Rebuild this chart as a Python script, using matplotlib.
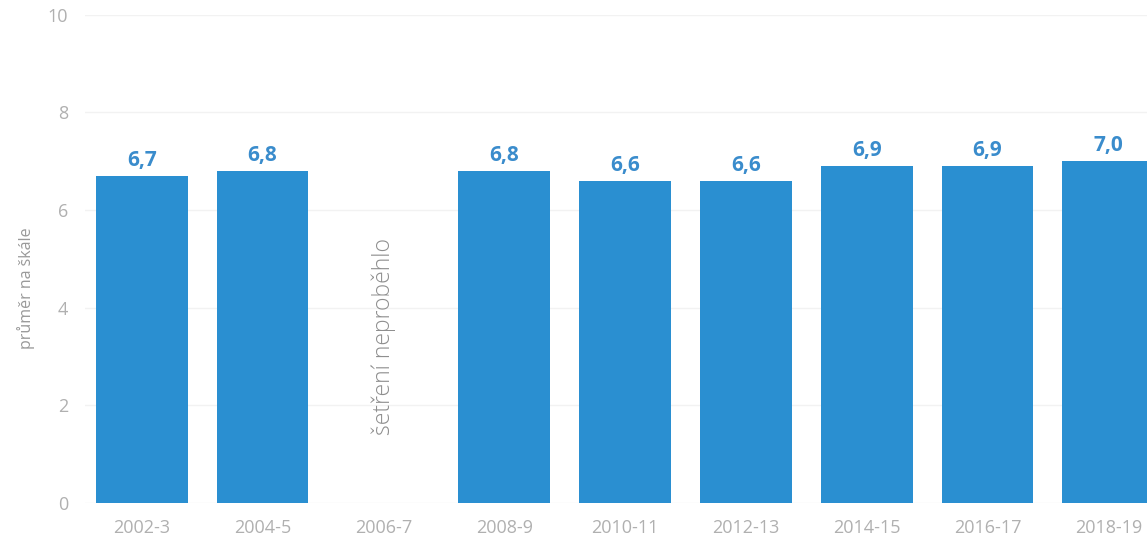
import matplotlib.pyplot as plt

periods = ['2002-3', '2004-5', '2006-7', '2008-9', '2010-11', '2012-13', '2014-15', '2016-17', '2018-19']
values = [6.7, 6.8, None, 6.8, 6.6, 6.6, 6.9, 6.9, 7.0]
missing_note = 'šetření neproběhlo'
y_ticks = [0, 2, 4, 6, 8, 10]

bar_color = '#2a8fd1'
label_color = '#3a8ccc'
gray = '#b0b0b0'

plt.rcParams['font.family'] = ['Open Sans', 'DejaVu Sans']

fig = plt.figure(figsize=(11.47, 5.43), dpi=100)
ax = fig.add_axes([0.074, 0.074, 0.926, 0.899])

xs = list(range(len(periods)))
for x, v in zip(xs, values):
    if v is None:
        ax.text(x, 3.4, missing_note, rotation=90, ha='center', va='center',
                fontsize=16.5, color='#8e8e8e', fontweight='light')
        continue
    ax.bar(x, v, width=0.76, color=bar_color, zorder=2)
    ax.text(x, v + 0.1, ('%.1f' % v).replace('.', ','), ha='center', va='bottom',
            fontsize=15, fontweight='bold', color=label_color)

ax.set_xlim(-0.47, 8.32)
ax.set_ylim(0, 10)
ax.set_yticks(y_ticks)
ax.set_xticks(xs)
ax.set_xticklabels(periods)
ax.tick_params(axis='both', length=0, colors=gray, labelsize=13)
ax.tick_params(axis='x', pad=12)
ax.tick_params(axis='y', pad=12)
ax.grid(axis='y', color='#f2f2f2', linewidth=1, zorder=0)
ax.set_axisbelow(True)
for s in ax.spines.values():
    s.set_visible(False)
ax.set_ylabel('průměr na škále', fontsize=11.5, color='#999999')
ax.yaxis.set_label_coords(-0.047, 0.44)

fig.savefig('out.png', dpi=100)
